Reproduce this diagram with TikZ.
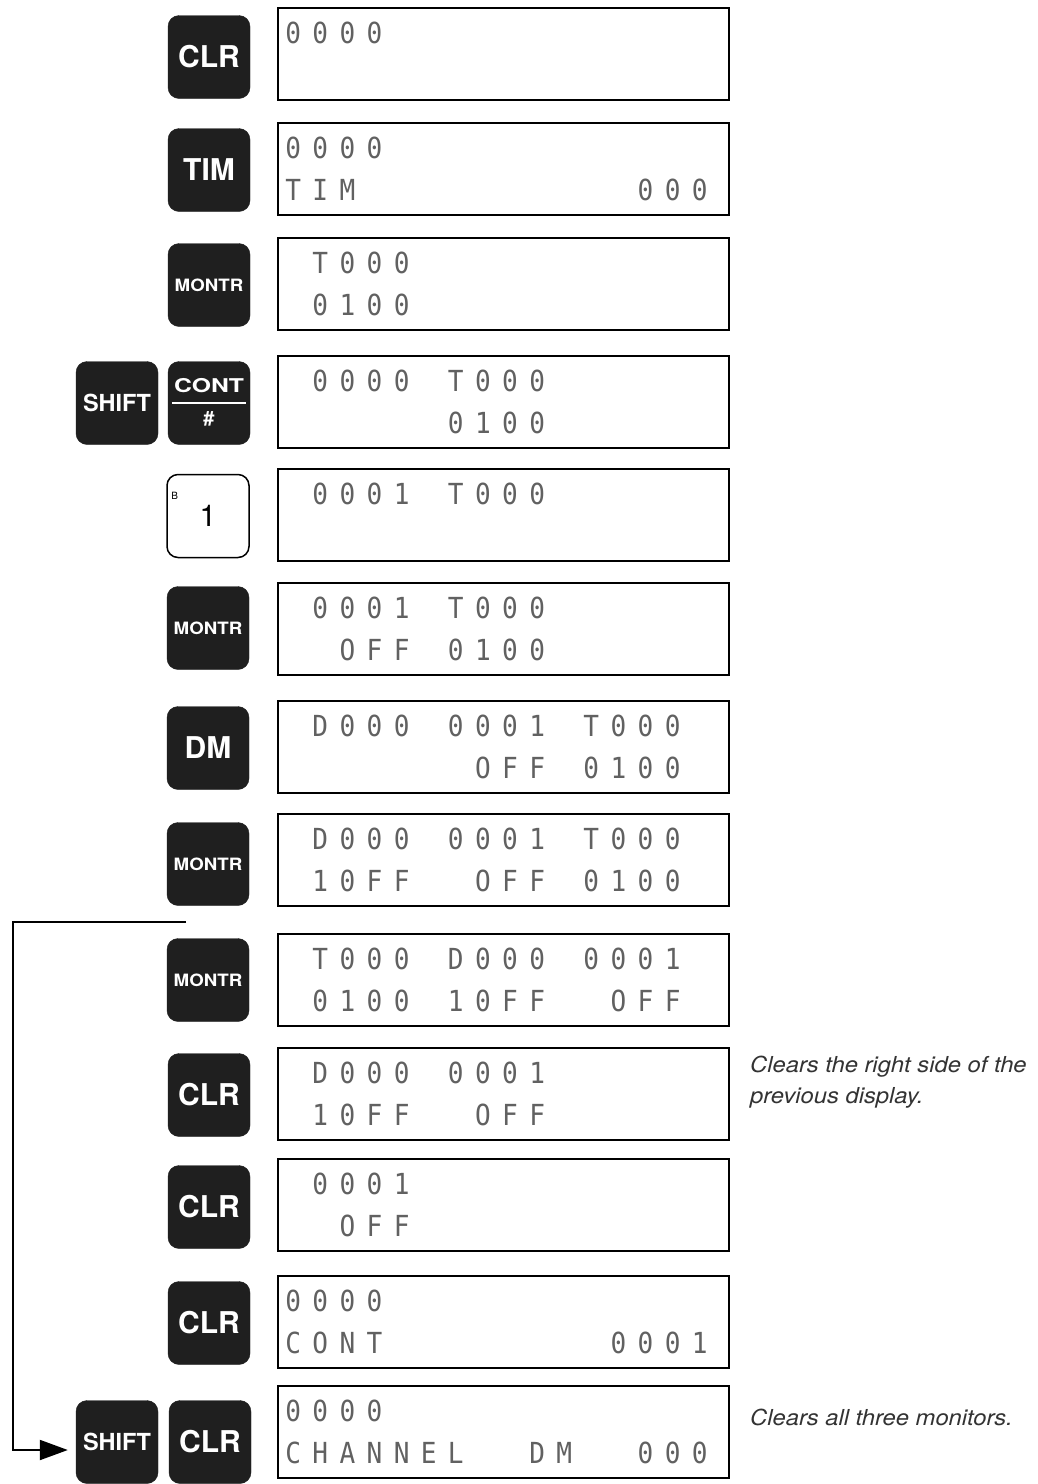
\documentclass[tikz,border=0pt]{standalone}
\usepackage{fontspec}
\usepackage{graphicx}
\usetikzlibrary{arrows.meta,calc}
\newfontfamily\keyfont{TeX Gyre Heros}
\newfontfamily\notefont[FakeStretch=1.08]{TeX Gyre Heros}
\newfontfamily\lcdfont[FakeStretch=0.9]{DejaVu Sans Mono}
\makeatletter
\def\lcd@dot{.}
\newcommand\lcdstr[1]{\@tfor\lcd@c:=#1\do{\makebox[27.1pt][c]{\ifx\lcd@c\lcd@dot\else\lcd@c\fi}}}
\makeatother
\tikzset{
 display/.style={draw=black, line width=1.6pt, minimum width=451pt, minimum height=92pt, anchor=north west, inner sep=0},
 lcdtext/.style={anchor=base west, inner sep=0, text=black!62, font=\lcdfont\fontsize{29}{34}\selectfont},
 keybox/.style={fill=black!88, draw=black!88, rounded corners=11pt, minimum width=82pt, minimum height=83pt, inner sep=0, text=white},
 bigkey/.style={keybox, font=\keyfont\bfseries\fontsize{30}{30}\selectfont},
 smallkey/.style={keybox, font=\keyfont\bfseries\fontsize{17}{17}\selectfont},
 shiftkey/.style={keybox, font=\keyfont\bfseries\fontsize{23.5}{24}\selectfont},
 notetext/.style={anchor=base west, inner sep=0, text=black!80, font=\notefont\itshape\fontsize{22}{26}\selectfont},
 loopline/.style={line width=2pt, -{Triangle[length=28pt,width=20pt]}}
}
\begin{document}
\begin{tikzpicture}[x=1pt,y=-1pt]
\useasboundingbox (0,0) rectangle (1038,1484);
\fill[white] (0,0) rectangle (1038,1484);
% Row 1
\node[display] (d1) at (277,7) {};
\node[lcdtext] (d1a) at ($(d1.north west)+(2.5,36)$) {\lcdstr{0000}};
\node[bigkey] (k1) at (209,57) {CLR};
% Row 2
\node[display] (d2) at (277,122) {};
\node[lcdtext] (d2a) at ($(d2.north west)+(2.5,36)$) {\lcdstr{0000}};
\node[lcdtext] (d2b) at ($(d2.north west)+(2.5,78)$) {\lcdstr{TIM..........000}};
\node[bigkey] (k2) at (209,170) {TIM};
% Row 3
\node[display] (d3) at (277,237) {};
\node[lcdtext] (d3a) at ($(d3.north west)+(2.5,36)$) {\lcdstr{.T000}};
\node[lcdtext] (d3b) at ($(d3.north west)+(2.5,78)$) {\lcdstr{.0100}};
\node[smallkey] (k3) at (209,285) {\scalebox{1.1}[1]{MONTR}};
% Row 4
\node[display] (d4) at (277,355) {};
\node[lcdtext] (d4a) at ($(d4.north west)+(2.5,36)$) {\lcdstr{.0000.T000}};
\node[lcdtext] (d4b) at ($(d4.north west)+(2.5,78)$) {\lcdstr{......0100}};
\node[shiftkey] (shift4) at (117,403) {SHIFT};
\node[keybox] (cont4) at (209,403) {};
\node[text=white, inner sep=0, font=\keyfont\bfseries\fontsize{19}{19}\selectfont] (cont4t) at ($(cont4.center)+(0,-17)$) {\scalebox{1.3}[1]{CONT}};
\draw[white, line width=2pt] ($(cont4.west)+(4,0)$) -- ($(cont4.east)+(-4,0)$);
\node[text=white, inner sep=0, font=\keyfont\bfseries\fontsize{20}{20}\selectfont] (cont4h) at ($(cont4.center)+(0,16)$) {\#};
% Row 5
\node[display] (d5) at (277,468) {};
\node[lcdtext] (d5a) at ($(d5.north west)+(2.5,36)$) {\lcdstr{.0001.T000}};
\node[keybox, fill=white, draw=black, line width=1.5pt, text=black, font=\keyfont\fontsize{30}{30}\selectfont] (k5) at (208,516) {1};
\node[anchor=north west, inner sep=0, font=\keyfont\fontsize{10}{10}\selectfont] (k5b) at ($(k5.north west)+(5,18)$) {B};
% Row 6
\node[display] (d6) at (277,582) {};
\node[lcdtext] (d6a) at ($(d6.north west)+(2.5,36)$) {\lcdstr{.0001.T000}};
\node[lcdtext] (d6b) at ($(d6.north west)+(2.5,78)$) {\lcdstr{..OFF.0100}};
\node[smallkey] (k6) at (208,628) {\scalebox{1.1}[1]{MONTR}};
% Row 7
\node[display] (d7) at (277,700) {};
\node[lcdtext] (d7a) at ($(d7.north west)+(2.5,36)$) {\lcdstr{.D000.0001.T000}};
\node[lcdtext] (d7b) at ($(d7.north west)+(2.5,78)$) {\lcdstr{.......OFF.0100}};
\node[bigkey] (k7) at (208,748) {DM};
% Row 8
\node[display] (d8) at (277,813) {};
\node[lcdtext] (d8a) at ($(d8.north west)+(2.5,36)$) {\lcdstr{.D000.0001.T000}};
\node[lcdtext] (d8b) at ($(d8.north west)+(2.5,78)$) {\lcdstr{.10FF..OFF.0100}};
\node[smallkey] (k8) at (208,864) {\scalebox{1.1}[1]{MONTR}};
% Row 9
\node[display] (d9) at (277,933) {};
\node[lcdtext] (d9a) at ($(d9.north west)+(2.5,36)$) {\lcdstr{.T000.D000.0001}};
\node[lcdtext] (d9b) at ($(d9.north west)+(2.5,78)$) {\lcdstr{.0100.10FF..OFF}};
\node[smallkey] (k9) at (208,980) {\scalebox{1.1}[1]{MONTR}};
% Row 10
\node[display] (d10) at (277,1047) {};
\node[lcdtext] (d10a) at ($(d10.north west)+(2.5,36)$) {\lcdstr{.D000.0001}};
\node[lcdtext] (d10b) at ($(d10.north west)+(2.5,78)$) {\lcdstr{.10FF..OFF}};
\node[bigkey] (k10) at (209,1095) {CLR};
% Row 11
\node[display] (d11) at (277,1158) {};
\node[lcdtext] (d11a) at ($(d11.north west)+(2.5,36)$) {\lcdstr{.0001}};
\node[lcdtext] (d11b) at ($(d11.north west)+(2.5,78)$) {\lcdstr{..OFF}};
\node[bigkey] (k11) at (209,1207) {CLR};
% Row 12
\node[display] (d12) at (277,1275) {};
\node[lcdtext] (d12a) at ($(d12.north west)+(2.5,36)$) {\lcdstr{0000}};
\node[lcdtext] (d12b) at ($(d12.north west)+(2.5,78)$) {\lcdstr{CONT........0001}};
\node[bigkey] (k12) at (209,1323) {CLR};
% Row 13
\node[display] (d13) at (277,1385) {};
\node[lcdtext] (d13a) at ($(d13.north west)+(2.5,36)$) {\lcdstr{0000}};
\node[lcdtext] (d13b) at ($(d13.north west)+(2.5,78)$) {\lcdstr{CHANNEL..DM..000}};
\node[shiftkey] (shift13) at (117,1442) {SHIFT};
\node[bigkey] (k13) at (210,1442) {CLR};
% Notes
\node[notetext] (n1a) at (750,1072) {Clears the right side of the};
\node[notetext] (n1b) at (750,1103) {previous display.};
\node[notetext] (n2) at (750,1425) {Clears all three monitors.};
% Loop connector
\coordinate (loopstart) at (186,922);
\coordinate (loopcorner) at (13,922);
\draw[loopline] (loopstart) -- (loopcorner) |- ([xshift=-8pt,yshift=-8pt]shift13.west);
\end{tikzpicture}
\end{document}
